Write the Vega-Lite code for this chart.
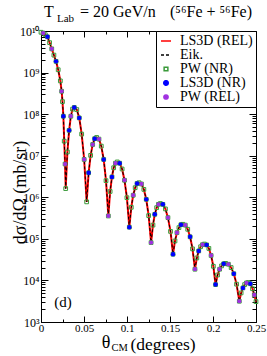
{
  "$schema": "https://vega.github.io/schema/vega-lite/v6.json",
  "width": 215,
  "height": 291,
  "autosize": {"type": "none"},
  "padding": {"left": 41, "top": 31, "right": 11, "bottom": 34},
  "background": "white",
  "config": {
    "font": "Liberation Serif",
    "view": {"stroke": "black", "strokeWidth": 1},
    "axis": {"grid": false, "domainColor": "black", "tickColor": "black", "labelColor": "black", "titleColor": "black", "labelFont": "Liberation Serif", "titleFont": "Liberation Serif", "titleFontWeight": "normal", "tickWidth": 1, "domainWidth": 1}
  },
  "data": {"values": [
    {"t":0,"rel":9.33e9,"eik":9.33e9,"pwnr":9.33e9},
    {"t":0.0025,"rel":8.91e9,"eik":8.91e9,"pwnr":8.91e9,"pwrel":8.91e9},
    {"t":0.005,"rel":8.13e9,"eik":8.13e9,"pwnr":8.13e9},
    {"t":0.0075,"rel":7.24e9,"eik":7.24e9,"pwnr":7.24e9,"nr":7.24e9},
    {"t":0.01,"rel":5.25e9,"eik":5.25e9,"pwnr":5.25e9},
    {"t":0.0125,"rel":3.72e9,"eik":3.72e9,"pwnr":3.72e9,"pwrel":3.72e9},
    {"t":0.015,"rel":2.63e9,"eik":2.63e9,"pwnr":2.63e9},
    {"t":0.0175,"rel":1.86e9,"eik":1.86e9,"pwnr":1.86e9,"nr":1.86e9},
    {"t":0.02,"rel":1.17e9,"eik":1.17e9,"pwnr":1.17e9},
    {"t":0.0225,"rel":6.31e8,"eik":6.31e8,"pwnr":6.31e8},
    {"t":0.024,"rel":3.55e8,"eik":3.55e8,"pwnr":3.55e8,"pwrel":3.55e8},
    {"t":0.025,"rel":2.0e8,"eik":2.0e8,"pwnr":2.0e8},
    {"t":0.026,"rel":8.91e7,"eik":8.91e7,"pwnr":8.91e7,"nr":8.91e7},
    {"t":0.027,"rel":2.24e7,"eik":2.24e7,"pwnr":2.24e7},
    {"t":0.028,"rel":6.31e6,"eik":6.31e6,"pwnr":6.31e6,"pwrel":6.31e6},
    {"t":0.0287,"rel":1.62e6,"eik":1.62e6,"pwnr":1.62e6},
    {"t":0.0307,"rel":1.23e7,"eik":1.23e7,"pwnr":1.23e7},
    {"t":0.0327,"rel":4.07e7,"eik":4.07e7,"pwnr":4.07e7,"nr":4.07e7},
    {"t":0.0347,"rel":8.91e7,"eik":8.91e7,"pwnr":8.91e7,"pwrel":8.91e7},
    {"t":0.0367,"rel":1.32e8,"eik":1.32e8,"pwnr":1.32e8},
    {"t":0.0387,"rel":1.45e8,"eik":1.45e8,"pwnr":1.45e8,"nr":1.45e8},
    {"t":0.0416,"rel":1.29e8,"eik":1.29e8,"pwnr":1.29e8},
    {"t":0.0445,"rel":8.13e7,"eik":8.13e7,"pwnr":8.13e7,"nr":8.13e7},
    {"t":0.0473,"rel":3.31e7,"eik":3.31e7,"pwnr":3.31e7},
    {"t":0.0502,"rel":8.13e6,"eik":8.13e6,"pwnr":8.13e6,"pwrel":8.13e6},
    {"t":0.0531,"rel":7.76e5,"eik":7.76e5,"pwnr":7.76e5},
    {"t":0.0554,"rel":3.89e6,"eik":3.89e6,"pwnr":3.89e6,"nr":3.89e6},
    {"t":0.0577,"rel":1.02e7,"eik":1.02e7,"pwnr":1.02e7},
    {"t":0.0601,"rel":1.86e7,"eik":1.86e7,"pwnr":1.86e7,"pwrel":1.86e7},
    {"t":0.0624,"rel":2.57e7,"eik":2.57e7,"pwnr":2.57e7,"nr":2.57e7},
    {"t":0.0647,"rel":2.75e7,"eik":2.75e7,"pwnr":2.75e7},
    {"t":0.0674,"rel":2.51e7,"eik":2.51e7,"pwnr":2.51e7,"pwrel":2.51e7},
    {"t":0.0701,"rel":1.70e7,"eik":1.70e7,"pwnr":1.70e7},
    {"t":0.0729,"rel":8.13e6,"eik":8.13e6,"pwnr":8.13e6,"nr":8.13e6},
    {"t":0.0756,"rel":2.51e6,"eik":2.51e6,"pwnr":2.51e6},
    {"t":0.0783,"rel":3.55e5,"eik":3.55e5,"pwnr":3.55e5,"pwrel":3.55e5},
    {"t":0.0804,"rel":1.38e6,"eik":1.38e6,"pwnr":1.38e6},
    {"t":0.0825,"rel":3.09e6,"eik":3.09e6,"pwnr":3.09e6,"nr":3.09e6},
    {"t":0.0845,"rel":5.13e6,"eik":5.13e6,"pwnr":5.13e6},
    {"t":0.0866,"rel":6.61e6,"eik":6.61e6,"pwnr":6.61e6,"pwrel":6.61e6},
    {"t":0.0887,"rel":7.08e6,"eik":7.08e6,"pwnr":7.08e6},
    {"t":0.0915,"rel":6.61e6,"eik":6.61e6,"pwnr":6.61e6,"nr":6.61e6},
    {"t":0.0943,"rel":4.79e6,"eik":4.79e6,"pwnr":4.79e6},
    {"t":0.0971,"rel":2.57e6,"eik":2.57e6,"pwnr":2.57e6,"pwrel":2.57e6},
    {"t":0.0999,"rel":9.77e5,"eik":9.77e5,"pwnr":9.77e5},
    {"t":0.1027,"rel":1.91e5,"eik":1.91e5,"pwnr":1.91e5,"nr":1.91e5},
    {"t":0.105,"rel":5.75e5,"eik":5.75e5,"pwnr":5.75e5},
    {"t":0.1072,"rel":1.12e6,"eik":1.12e6,"pwnr":1.12e6,"pwrel":1.12e6},
    {"t":0.1095,"rel":1.70e6,"eik":1.70e6,"pwnr":1.70e6},
    {"t":0.1117,"rel":2.14e6,"eik":2.14e6,"pwnr":2.14e6,"nr":2.14e6},
    {"t":0.114,"rel":2.24e6,"eik":2.24e6,"pwnr":2.24e6},
    {"t":0.1168,"rel":2.09e6,"eik":2.09e6,"pwnr":2.09e6,"pwrel":2.09e6},
    {"t":0.1196,"rel":1.55e6,"eik":1.55e6,"pwnr":1.55e6},
    {"t":0.1224,"rel":8.91e5,"eik":8.91e5,"pwnr":8.91e5,"nr":8.91e5},
    {"t":0.1252,"rel":3.63e5,"eik":3.63e5,"pwnr":3.63e5},
    {"t":0.128,"rel":8.13e4,"eik":8.13e4,"pwnr":8.13e4,"pwrel":8.13e4},
    {"t":0.1302,"rel":2.14e5,"eik":2.14e5,"pwnr":2.14e5},
    {"t":0.1323,"rel":3.89e5,"eik":3.89e5,"pwnr":3.89e5,"nr":3.89e5},
    {"t":0.1345,"rel":5.62e5,"eik":5.62e5,"pwnr":5.62e5},
    {"t":0.1366,"rel":6.76e5,"eik":6.76e5,"pwnr":6.76e5,"pwrel":6.76e5},
    {"t":0.1388,"rel":7.08e5,"eik":7.08e5,"pwnr":7.08e5},
    {"t":0.1417,"rel":6.76e5,"eik":6.76e5,"pwnr":6.76e5,"nr":6.76e5},
    {"t":0.1447,"rel":5.25e5,"eik":5.25e5,"pwnr":5.25e5},
    {"t":0.1476,"rel":3.24e5,"eik":3.24e5,"pwnr":3.24e5,"pwrel":3.24e5},
    {"t":0.1506,"rel":1.51e5,"eik":1.51e5,"pwnr":1.51e5},
    {"t":0.1535,"rel":4.27e4,"eik":4.27e4,"pwnr":4.27e4,"nr":4.27e4},
    {"t":0.1558,"rel":8.91e4,"eik":8.91e4,"pwnr":8.91e4},
    {"t":0.1581,"rel":1.41e5,"eik":1.41e5,"pwnr":1.41e5,"pwrel":1.41e5},
    {"t":0.1604,"rel":1.86e5,"eik":1.86e5,"pwnr":1.86e5},
    {"t":0.1627,"rel":2.19e5,"eik":2.19e5,"pwnr":2.19e5,"nr":2.19e5},
    {"t":0.165,"rel":2.24e5,"eik":2.24e5,"pwnr":2.24e5},
    {"t":0.1678,"rel":2.14e5,"eik":2.14e5,"pwnr":2.14e5,"pwrel":2.14e5},
    {"t":0.1706,"rel":1.70e5,"eik":1.70e5,"pwnr":1.70e5},
    {"t":0.1734,"rel":1.12e5,"eik":1.12e5,"pwnr":1.12e5,"nr":1.12e5},
    {"t":0.1762,"rel":5.75e4,"eik":5.75e4,"pwnr":5.75e4},
    {"t":0.179,"rel":1.86e4,"eik":1.86e4,"pwnr":1.86e4,"pwrel":1.86e4},
    {"t":0.1812,"rel":3.47e4,"eik":3.47e4,"pwnr":3.47e4},
    {"t":0.1834,"rel":5.13e4,"eik":5.13e4,"pwnr":5.13e4,"nr":5.13e4},
    {"t":0.1856,"rel":6.46e4,"eik":6.46e4,"pwnr":6.46e4},
    {"t":0.1878,"rel":7.24e4,"eik":7.24e4,"pwnr":7.24e4,"pwrel":7.24e4},
    {"t":0.19,"rel":7.5e4,"eik":7.5e4,"pwnr":7.5e4},
    {"t":0.1926,"rel":7.16e4,"eik":7.16e4,"pwnr":7.16e4,"nr":7.16e4},
    {"t":0.1952,"rel":5.89e4,"eik":5.89e4,"pwnr":5.89e4},
    {"t":0.1978,"rel":3.98e4,"eik":3.98e4,"pwnr":3.98e4,"pwrel":3.98e4},
    {"t":0.2004,"rel":2.19e4,"eik":2.19e4,"pwnr":2.19e4},
    {"t":0.203,"rel":7.94e3,"eik":7.94e3,"pwnr":7.94e3,"nr":7.94e3},
    {"t":0.2053,"rel":1.35e4,"eik":1.35e4,"pwnr":1.35e4},
    {"t":0.2077,"rel":1.86e4,"eik":1.86e4,"pwnr":1.86e4,"pwrel":1.86e4},
    {"t":0.21,"rel":2.24e4,"eik":2.24e4,"pwnr":2.24e4},
    {"t":0.2124,"rel":2.51e4,"eik":2.51e4,"pwnr":2.51e4,"nr":2.51e4},
    {"t":0.2147,"rel":2.57e4,"eik":2.57e4,"pwnr":2.57e4},
    {"t":0.2179,"rel":2.45e4,"eik":2.45e4,"pwnr":2.45e4,"pwrel":2.45e4},
    {"t":0.2211,"rel":2.04e4,"eik":2.04e4,"pwnr":2.04e4},
    {"t":0.2242,"rel":1.45e4,"eik":1.45e4,"pwnr":1.45e4,"nr":1.45e4},
    {"t":0.2274,"rel":8.13e3,"eik":8.13e3,"pwnr":8.13e3},
    {"t":0.2306,"rel":3.16e3,"eik":3.16e3,"pwnr":3.16e3,"pwrel":3.16e3},
    {"t":0.2327,"rel":5.01e3,"eik":5.01e3,"pwnr":5.01e3},
    {"t":0.2348,"rel":6.61e3,"eik":6.61e3,"pwnr":6.61e3,"nr":6.61e3},
    {"t":0.2368,"rel":7.94e3,"eik":7.94e3,"pwnr":7.94e3},
    {"t":0.2389,"rel":8.71e3,"eik":8.71e3,"pwnr":8.71e3,"pwrel":8.71e3},
    {"t":0.241,"rel":8.91e3,"eik":8.91e3,"pwnr":8.91e3},
    {"t":0.2435,"rel":8.32e3,"eik":8.32e3,"pwnr":8.32e3,"nr":8.32e3},
    {"t":0.246,"rel":6.31e3,"eik":6.31e3,"pwnr":6.31e3},
    {"t":0.248,"rel":4.47e3,"eik":4.47e3,"pwnr":4.47e3,"pwrel":4.47e3},
    {"t":0.25,"rel":3.09e3,"eik":3.09e3,"pwnr":3.09e3}
  ]},
  "resolve": {"axis": {"x": "independent", "y": "independent"}},
  "layer": [
    {
      "transform": [{"fold": ["rel"], "as": ["series", "val"]}],
      "mark": {"type": "line", "strokeWidth": 2},
      "encoding": {
        "x": {"field": "t", "type": "quantitative", "scale": {"domain": [0, 0.25], "nice": false, "zero": false},
          "axis": {"orient": "bottom", "values": [0, 0.05, 0.1, 0.15, 0.2, 0.25], "labelExpr": "format(datum.value, '~g')", "tickSize": -6, "labelPadding": 6, "labelFontSize": 11, "labelFlush": false, "title": "(degrees)", "titleFontSize": 17.5, "titleBaseline": "alphabetic", "titleAlign": "left", "titleX": 89, "titleY": 27}},
        "y": {"field": "val", "type": "quantitative", "scale": {"type": "log", "domain": [1000, 1e10], "nice": false},
          "axis": {"orient": "left", "values": [1e3, 1e4, 1e5, 1e6, 1e7, 1e8, 1e9, 1e10], "labelExpr": "'10' + (datum.value >= 1e10 ? '\u00b9\u2070' : ['\u2070','\u00b9','\u00b2','\u00b3','\u2074','\u2075','\u2076','\u2077','\u2078','\u2079'][round(log(datum.value)/LN10)])", "tickSize": -7, "labelPadding": 9, "labelFontSize": 12, "title": "d\u03c3/d\u03a9 (mb/sr)", "titleFontSize": 18, "titleBaseline": "alphabetic", "titleX": -16, "titleY": 161, "titleAngle": -90}},
        "color": {"field": "series", "type": "nominal",
          "scale": {"domain": ["rel", "eik", "pwnr", "nr", "pwrel"], "range": ["#ff0000", "#000000", "#3a9a3a", "#0000ff", "#a030e0"]},
          "legend": {"title": null, "orient": "top-right", "offset": 0, "strokeColor": "black", "fillColor": "white", "padding": 3,
            "labelFont": "Liberation Serif", "labelFontSize": 14, "labelColor": "black", "labelOffset": 7, "rowPadding": -2, "symbolStrokeWidth": 1.5,
            "labelExpr": "datum.value == 'rel' ? 'LS3D (REL)' : datum.value == 'eik' ? 'Eik.' : datum.value == 'pwnr' ? 'PW (NR)' : datum.value == 'nr' ? 'LS3D (NR)' : 'PW (REL)'"}},
        "strokeDash": {"field": "series", "type": "nominal", "scale": {"domain": ["rel", "eik", "pwnr", "nr", "pwrel"], "range": [[1, 0], [3, 2], [1, 0], [1, 0], [1, 0]]}}
      }
    },
    {
      "transform": [{"fold": ["eik"], "as": ["series", "val"]}],
      "mark": {"type": "line", "strokeWidth": 1},
      "encoding": {
        "x": {"field": "t", "type": "quantitative", "scale": {"domain": [0, 0.25], "nice": false, "zero": false},
          "axis": {"orient": "bottom", "values": [0.025, 0.075, 0.125, 0.175, 0.225], "labels": false, "tickSize": -3, "domain": false, "title": null}},
        "y": {"field": "val", "type": "quantitative", "scale": {"type": "log", "domain": [1000, 1e10], "nice": false},
          "axis": {"orient": "left", "values": [2e3,3e3,4e3,5e3,6e3,7e3,8e3,9e3,2e4,3e4,4e4,5e4,6e4,7e4,8e4,9e4,2e5,3e5,4e5,5e5,6e5,7e5,8e5,9e5,2e6,3e6,4e6,5e6,6e6,7e6,8e6,9e6,2e7,3e7,4e7,5e7,6e7,7e7,8e7,9e7,2e8,3e8,4e8,5e8,6e8,7e8,8e8,9e8,2e9,3e9,4e9,5e9,6e9,7e9,8e9,9e9], "labels": false, "tickSize": -4, "domain": false, "title": null}},
        "color": {"field": "series", "type": "nominal", "scale": {"domain": ["rel", "eik", "pwnr", "nr", "pwrel"], "range": ["#ff0000", "#000000", "#3a9a3a", "#0000ff", "#a030e0"]}},
        "strokeDash": {"field": "series", "type": "nominal", "scale": {"domain": ["rel", "eik", "pwnr", "nr", "pwrel"], "range": [[1, 0], [3, 2], [1, 0], [1, 0], [1, 0]]}}
      }
    },
    {
      "transform": [{"fold": ["pwnr"], "as": ["series", "val"]}],
      "mark": {"type": "point", "filled": false, "strokeWidth": 1, "opacity": 1},
      "encoding": {
        "x": {"field": "t", "type": "quantitative", "scale": {"domain": [0, 0.25], "nice": false, "zero": false},
          "axis": {"orient": "top", "values": [0, 0.05, 0.1, 0.15, 0.2, 0.25], "labels": false, "tickSize": -6, "title": null}},
        "y": {"field": "val", "type": "quantitative", "scale": {"type": "log", "domain": [1000, 1e10], "nice": false},
          "axis": {"orient": "right", "values": [1e3, 1e4, 1e5, 1e6, 1e7, 1e8, 1e9, 1e10], "labels": false, "tickSize": -7, "title": null}},
        "color": {"field": "series", "type": "nominal", "scale": {"domain": ["rel", "eik", "pwnr", "nr", "pwrel"], "range": ["#ff0000", "#000000", "#3a9a3a", "#0000ff", "#a030e0"]}},
        "fill": {"field": "series", "type": "nominal", "scale": {"domain": ["rel", "eik", "pwnr", "nr", "pwrel"], "range": ["transparent", "transparent", "transparent", "#0000ff", "#a030e0"]}},
        "shape": {"field": "series", "type": "nominal", "scale": {"domain": ["rel", "eik", "pwnr", "nr", "pwrel"], "range": ["stroke", "stroke", "square", "circle", "circle"]}},
        "size": {"field": "series", "type": "nominal", "scale": {"type": "ordinal", "domain": ["rel", "eik", "pwnr", "nr", "pwrel"], "range": [100, 100, 14, 20, 18]}}
      }
    },
    {
      "transform": [{"fold": ["nr", "pwrel"], "as": ["series", "val"]}],
      "mark": {"type": "point", "filled": true, "opacity": 1},
      "encoding": {
        "x": {"field": "t", "type": "quantitative", "scale": {"domain": [0, 0.25], "nice": false, "zero": false},
          "axis": {"orient": "top", "values": [0.025, 0.075, 0.125, 0.175, 0.225], "labels": false, "tickSize": -3, "domain": false, "title": null}},
        "y": {"field": "val", "type": "quantitative", "scale": {"type": "log", "domain": [1000, 1e10], "nice": false},
          "axis": {"orient": "right", "values": [2e3,3e3,4e3,5e3,6e3,7e3,8e3,9e3,2e4,3e4,4e4,5e4,6e4,7e4,8e4,9e4,2e5,3e5,4e5,5e5,6e5,7e5,8e5,9e5,2e6,3e6,4e6,5e6,6e6,7e6,8e6,9e6,2e7,3e7,4e7,5e7,6e7,7e7,8e7,9e7,2e8,3e8,4e8,5e8,6e8,7e8,8e8,9e8,2e9,3e9,4e9,5e9,6e9,7e9,8e9,9e9], "labels": false, "tickSize": -4, "domain": false, "title": null}},
        "color": {"field": "series", "type": "nominal", "scale": {"domain": ["rel", "eik", "pwnr", "nr", "pwrel"], "range": ["#ff0000", "#000000", "#3a9a3a", "#0000ff", "#a030e0"]}},
        "fill": {"field": "series", "type": "nominal", "scale": {"domain": ["rel", "eik", "pwnr", "nr", "pwrel"], "range": ["transparent", "transparent", "transparent", "#0000ff", "#a030e0"]}},
        "shape": {"field": "series", "type": "nominal", "scale": {"domain": ["rel", "eik", "pwnr", "nr", "pwrel"], "range": ["stroke", "stroke", "square", "circle", "circle"]}},
        "size": {"field": "series", "type": "nominal", "scale": {"type": "ordinal", "domain": ["rel", "eik", "pwnr", "nr", "pwrel"], "range": [100, 100, 14, 20, 18]}}
      }
    },
    {
      "data": {"values": [{}]},
      "mark": {"type": "text", "text": "(d)", "font": "Liberation Serif", "fontSize": 15, "align": "center", "baseline": "middle", "color": "black"},
      "encoding": {
        "x": {"datum": 0.0256, "type": "quantitative", "scale": {"domain": [0, 0.25], "nice": false, "zero": false}, "axis": null},
        "y": {"datum": 3027, "type": "quantitative", "scale": {"type": "log", "domain": [1000, 1e10], "nice": false}, "axis": null}
      }
    },
    {
      "data": {"values": [{}]},
      "mark": {"type": "text", "text": "T", "font": "Liberation Serif", "fontSize": 16, "align": "left", "baseline": "alphabetic", "color": "black"},
      "encoding": {
        "x": {"datum": 0.0035, "type": "quantitative", "scale": {"domain": [0, 0.25], "nice": false, "zero": false}, "axis": null},
        "y": {"datum": 2.17e10, "type": "quantitative", "scale": {"type": "log", "domain": [1000, 1e10], "nice": false}, "axis": null}
      }
    },
    {
      "data": {"values": [{}]},
      "mark": {"type": "text", "text": "Lab", "font": "Liberation Serif", "fontSize": 11, "align": "left", "baseline": "alphabetic", "color": "black"},
      "encoding": {
        "x": {"datum": 0.0186, "type": "quantitative", "scale": {"domain": [0, 0.25], "nice": false, "zero": false}, "axis": null},
        "y": {"datum": 1.63e10, "type": "quantitative", "scale": {"type": "log", "domain": [1000, 1e10], "nice": false}, "axis": null}
      }
    },
    {
      "data": {"values": [{}]},
      "mark": {"type": "text", "text": "= 20 GeV/n", "font": "Liberation Serif", "fontSize": 16, "align": "left", "baseline": "alphabetic", "color": "black"},
      "encoding": {
        "x": {"datum": 0.0454, "type": "quantitative", "scale": {"domain": [0, 0.25], "nice": false, "zero": false}, "axis": null},
        "y": {"datum": 2.17e10, "type": "quantitative", "scale": {"type": "log", "domain": [1000, 1e10], "nice": false}, "axis": null}
      }
    },
    {
      "data": {"values": [{}]},
      "mark": {"type": "text", "text": "(\u2075\u2076Fe + \u2075\u2076Fe)", "font": "Liberation Serif", "fontSize": 16, "align": "left", "baseline": "alphabetic", "color": "black"},
      "encoding": {
        "x": {"datum": 0.15, "type": "quantitative", "scale": {"domain": [0, 0.25], "nice": false, "zero": false}, "axis": null},
        "y": {"datum": 2.17e10, "type": "quantitative", "scale": {"type": "log", "domain": [1000, 1e10], "nice": false}, "axis": null}
      }
    },
    {
      "data": {"values": [{}]},
      "mark": {"type": "text", "text": "\u03b8", "font": "Liberation Serif", "fontSize": 18, "align": "left", "baseline": "alphabetic", "color": "black"},
      "encoding": {
        "x": {"datum": 0.0706, "type": "quantitative", "scale": {"domain": [0, 0.25], "nice": false, "zero": false}, "axis": null},
        "y": {"datum": 238, "type": "quantitative", "scale": {"type": "log", "domain": [1000, 1e10], "nice": false}, "axis": null}
      }
    },
    {
      "data": {"values": [{}]},
      "mark": {"type": "text", "text": "CM", "font": "Liberation Serif", "fontSize": 10.5, "align": "left", "baseline": "alphabetic", "color": "black"},
      "encoding": {
        "x": {"datum": 0.082, "type": "quantitative", "scale": {"domain": [0, 0.25], "nice": false, "zero": false}, "axis": null},
        "y": {"datum": 205, "type": "quantitative", "scale": {"type": "log", "domain": [1000, 1e10], "nice": false}, "axis": null}
      }
    }
  ]
}
